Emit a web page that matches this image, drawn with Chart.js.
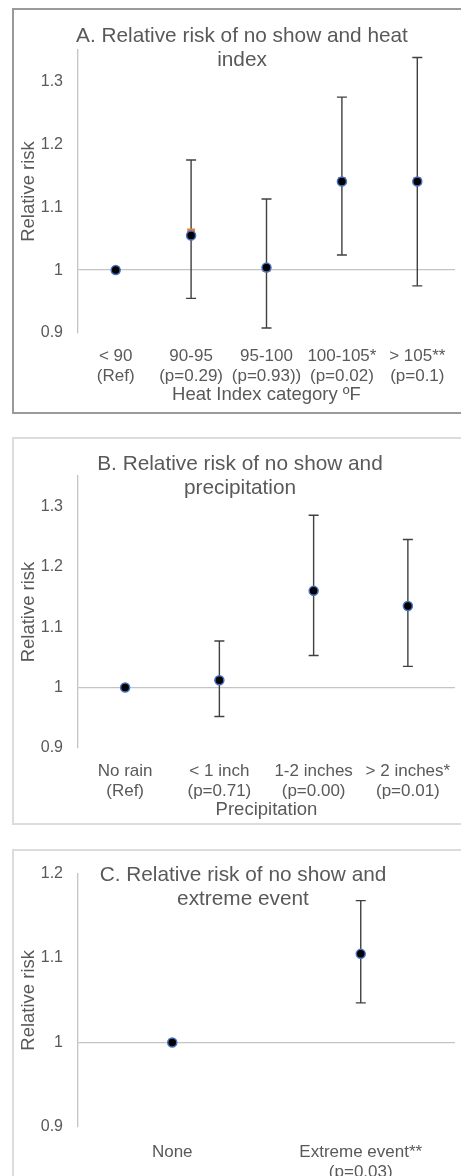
<!doctype html>
<html>
<head>
<meta charset="utf-8">
<style>
  body { margin:0; background:#fff; width:461px; height:1176px; overflow:hidden; position:relative; font-family:"Liberation Sans", Arial, sans-serif; }
  .panel { position:absolute; left:12px; width:480px; border:2px solid #dcdcdc; box-sizing:border-box; }
  .title { position:absolute; width:400px; text-align:center; color:#595959; font-size:20.8px; line-height:24px; }
  canvas { position:absolute; left:12px; }
</style>
</head>
<body>
<div class="panel" style="top:8px;height:406px;border-color:#9a9a9a"></div>
<div class="panel" style="top:437px;height:388px"></div>
<div class="panel" style="top:849px;height:400px"></div>

<canvas id="chartA" width="449" height="405" style="top:8px"></canvas>
<canvas id="chartB" width="449" height="387" style="top:437px"></canvas>
<canvas id="chartC" width="449" height="327" style="top:849px"></canvas>

<div class="title" style="left:42px;top:23px">A. Relative risk of no show and heat<br>index</div>
<div class="title" style="left:40px;top:451px">B. Relative risk of no show and<br>precipitation</div>
<div class="title" style="left:43px;top:862px">C. Relative risk of no show and<br>extreme event</div>

<script src="https://cdn.jsdelivr.net/npm/chart.js"></script>
<script>
// A. heat index
const heatLabels = [["< 90", "(Ref)"], ["90-95", "(p=0.29)"], ["95-100", "(p=0.93))"], ["100-105*", "(p=0.02)"], ["> 105**", "(p=0.1)"]];
const heatRR = [1.0, 1.055, 1.004, 1.141, 1.141];
const heatRR2 = [1.0, 1.06, 1.003, 1.142, 1.142];
const heatLo = [null, 0.955, 0.908, 1.024, 0.975];
const heatHi = [null, 1.175, 1.113, 1.275, 1.338];
const heatTicks = [0.9, 1, 1.1, 1.2, 1.3];

// B. precipitation
const rainLabels = [["No rain", "(Ref)"], ["< 1 inch", "(p=0.71)"], ["1-2 inches", "(p=0.00)"], ["> 2 inches*", "(p=0.01)"]];
const rainRR = [1.0, 1.012, 1.16, 1.135];
const rainLo = [null, 0.952, 1.053, 1.035];
const rainHi = [null, 1.077, 1.285, 1.245];
const rainTicks = [0.9, 1, 1.1, 1.2, 1.3];

// C. extreme event
const eventLabels = [["None"], ["Extreme event**", "(p=0.03)"]];
const eventRR = [1.0, 1.105];
const eventLo = [null, 1.047];
const eventHi = [null, 1.168];
const eventTicks = [0.9, 1, 1.1, 1.2];

const textColor = "#595959";
const axisColor = "#c4c4c4";
const fontFamily = '"Liberation Sans", Arial, sans-serif';

function makeChart(id, cfg) {
  const errorBars = {
    id: "errorBars",
    beforeDatasetsDraw(chart) {
      const { ctx, scales: { x, y } } = chart;
      ctx.save();
      ctx.strokeStyle = "#404040";
      ctx.lineWidth = 1.4;
      cfg.lo.forEach((lo, i) => {
        const hi = cfg.hi[i];
        if (lo == null) return;
        const px = x.getPixelForValue(i);
        const yl = y.getPixelForValue(lo);
        const yh = y.getPixelForValue(hi);
        ctx.beginPath();
        ctx.moveTo(px, yl); ctx.lineTo(px, yh);
        ctx.moveTo(px - 5, yl); ctx.lineTo(px + 5, yl);
        ctx.moveTo(px - 5, yh); ctx.lineTo(px + 5, yh);
        ctx.stroke();
      });
      ctx.restore();
    }
  };

  const datasets = [{
    data: cfg.rr,
    showLine: false,
    pointRadius: 4.5,
    pointBackgroundColor: "#000",
    pointBorderColor: "#4472c4",
    pointBorderWidth: 1.5
  }];
  if (cfg.rr2) {
    datasets.push({
      data: cfg.rr2,
      showLine: false,
      pointStyle: "rect",
      pointRadius: 5.5,
      pointBackgroundColor: "#ed7d31",
      pointBorderColor: "#ed7d31",
      pointBorderWidth: 0
    });
  }

  new Chart(document.getElementById(id), {
    type: "line",
    data: { labels: cfg.labels, datasets },
    plugins: [errorBars],
    options: {
      responsive: false,
      animation: false,
      devicePixelRatio: 1,
      layout: { padding: { top: cfg.top, right: cfg.right, left: 0, bottom: 0 } },
      plugins: { legend: { display: false }, tooltip: { enabled: false } },
      scales: {
        x: {
          type: "category",
          offset: true,
          grid: { display: false },
          border: { display: false },
          ticks: {
            color: textColor,
            font: { family: fontFamily, size: 17 },
            padding: cfg.xPad,
            maxRotation: 0,
            autoSkip: false
          },
          title: {
            display: !!cfg.xTitle,
            text: cfg.xTitle || "",
            color: textColor,
            font: { family: fontFamily, size: 18.5 },
            padding: { top: 0, bottom: cfg.xTitlePad || 0 }
          },
          afterFit(s) { s.height = cfg.xHeight; }
        },
        y: {
          min: 0.9,
          max: cfg.yMax,
          afterBuildTicks(s) { s.ticks = cfg.ticks.map(v => ({ value: v })); },
          grid: {
            drawTicks: false,
            color: c => (c.tick && c.tick.value === 1 ? axisColor : "rgba(0,0,0,0)"),
            lineWidth: 1.3
          },
          border: { display: true, color: axisColor, width: 1.3 },
          ticks: {
            color: textColor,
            font: { family: fontFamily, size: 16 },
            padding: 15,
            callback: v => String(v)
          },
          title: {
            display: true,
            text: "Relative risk",
            color: textColor,
            font: { family: fontFamily, size: 18.5 },
            padding: { top: 6, bottom: 0 }
          },
          afterFit(s) { s.width = 66; }
        }
      }
    }
  });
}

makeChart("chartA", {
  labels: heatLabels, rr: heatRR, rr2: heatRR2, lo: heatLo, hi: heatHi, ticks: heatTicks,
  yMax: 1.35, top: 42, right: 4, xHeight: 80, xPad: 5,
  xTitle: "Heat Index category ºF", xTitlePad: 7
});
makeChart("chartB", {
  labels: rainLabels, rr: rainRR, lo: rainLo, hi: rainHi, ticks: rainTicks,
  yMax: 1.35, top: 39, right: 5, xHeight: 76, xPad: 5,
  xTitle: "Precipitation", xTitlePad: 3
});
makeChart("chartC", {
  labels: eventLabels, rr: eventRR, lo: eventLo, hi: eventHi, ticks: eventTicks,
  yMax: 1.2, top: 24, right: 1, xHeight: 49, xPad: 7
});
</script>
</body>
</html>
